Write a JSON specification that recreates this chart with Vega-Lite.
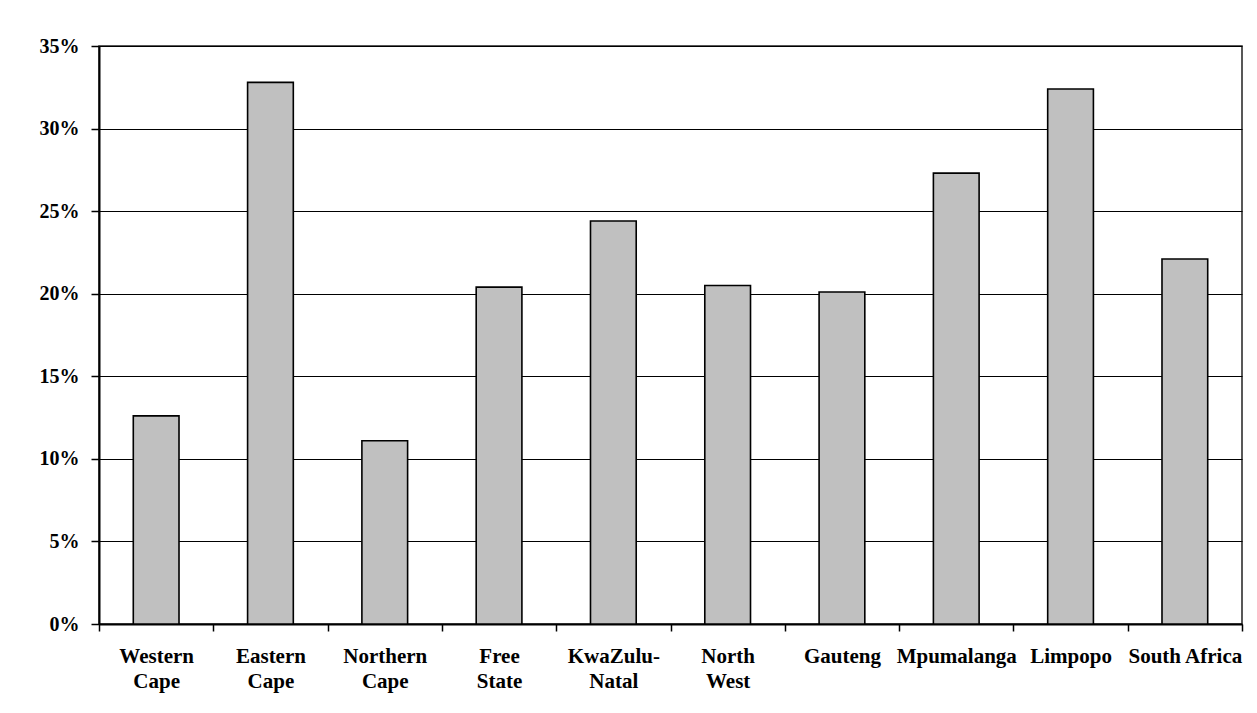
{
  "$schema": "https://vega.github.io/schema/vega-lite/v6.json",
  "width": 1143,
  "height": 578,
  "autosize": {"type": "none"},
  "padding": {"left": 99, "top": 46, "right": 15, "bottom": 89},
  "background": "white",
  "config": {
    "font": "Liberation Serif",
    "view": {"stroke": "#222222", "strokeWidth": 1.5}
  },
  "data": {
    "values": [
      {"province": "Western Cape", "share": 0.126},
      {"province": "Eastern Cape", "share": 0.328},
      {"province": "Northern Cape", "share": 0.111},
      {"province": "Free State", "share": 0.204},
      {"province": "KwaZulu-Natal", "share": 0.244},
      {"province": "North West", "share": 0.205},
      {"province": "Gauteng", "share": 0.201},
      {"province": "Mpumalanga", "share": 0.273},
      {"province": "Limpopo", "share": 0.324},
      {"province": "South Africa", "share": 0.221}
    ]
  },
  "mark": {
    "type": "bar",
    "width": {"band": 0.4},
    "fill": "#c0c0c0",
    "stroke": "#000000",
    "strokeWidth": 1.6
  },
  "encoding": {
    "x": {
      "field": "province",
      "type": "nominal",
      "sort": null,
      "scale": {"paddingInner": 0, "paddingOuter": 0},
      "axis": {
        "title": null,
        "labelAngle": 0,
        "labelFont": "Liberation Serif",
        "labelFontWeight": "bold",
        "labelFontSize": 21,
        "labelColor": "#000000",
        "labelLineHeight": 25,
        "labelPadding": 14,
        "labelBaseline": "top",
        "labelLimit": 0,
        "labelExpr": "!datum.value ? '' : (datum.value == 'KwaZulu-Natal' ? ['KwaZulu-', 'Natal'] : (datum.value == 'South Africa' ? datum.value : split(datum.value, ' ')))",
        "tickBand": "extent",
        "tickSize": 7,
        "tickColor": "#000000",
        "tickWidth": 1.5,
        "domainColor": "#000000",
        "domainWidth": 2,
        "grid": false
      }
    },
    "y": {
      "field": "share",
      "type": "quantitative",
      "scale": {"domain": [0, 0.35], "nice": false},
      "axis": {
        "title": null,
        "values": [0, 0.05, 0.1, 0.15, 0.2, 0.25, 0.3, 0.35],
        "format": ".0%",
        "labelFont": "Liberation Serif",
        "labelFontWeight": "bold",
        "labelFontSize": 20,
        "labelColor": "#000000",
        "labelPadding": 12,
        "tickSize": 8,
        "tickColor": "#000000",
        "tickWidth": 1.5,
        "domainColor": "#000000",
        "domainWidth": 2,
        "grid": true,
        "gridColor": "#000000",
        "gridWidth": 1.2,
        "gridOpacity": 1
      }
    }
  }
}
